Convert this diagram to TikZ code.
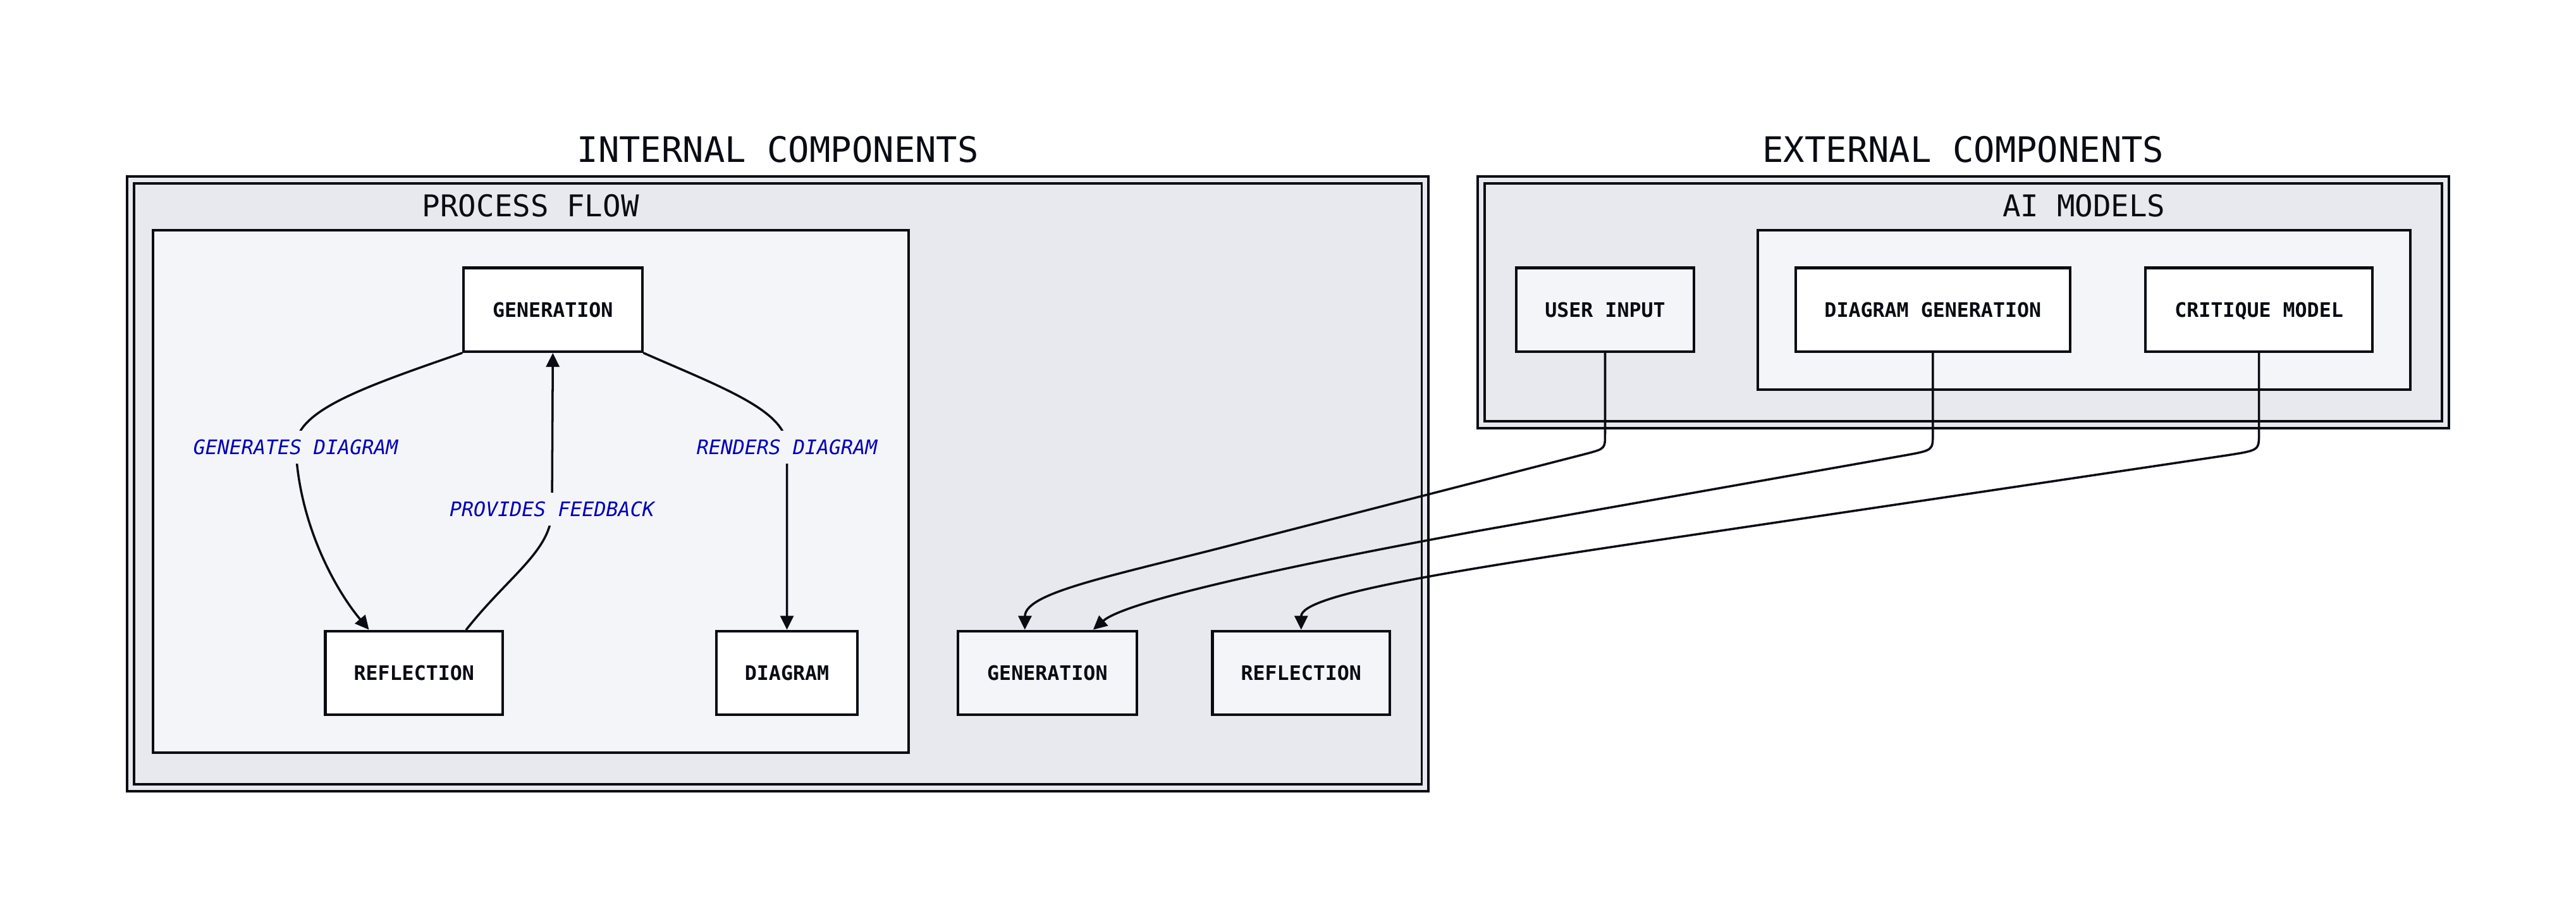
\documentclass[tikz,border=0pt]{standalone}
\usepackage{fontspec}
\setmainfont{DejaVu Sans Mono}
\usepackage{xcolor}
\usetikzlibrary{arrows.meta,calc}
\definecolor{groupgray}{HTML}{E8E9EE}
\definecolor{flowfill}{HTML}{F4F5F9}
\definecolor{inkblack}{HTML}{0A0C14}
\definecolor{labelblue}{HTML}{0000BB}
\newcommand{\pxu}{0.025982cm}

\begin{document}
\begin{tikzpicture}[line cap=round,line join=round,x=\pxu,y=-\pxu,
	>={Triangle[length=2.2mm,width=2.1mm]},
	group/.style={draw=inkblack,line width=1.1pt,line join=miter,fill=groupgray,double=groupgray,double distance=2pt},
	subgroup/.style={draw=inkblack,line width=1.1pt,line join=miter,fill=flowfill},
	grouptitle/.style={inner sep=0pt,text=inkblack,font=\fontsize{15.8}{18}\selectfont},
	subtitle/.style={inner sep=0pt,text=inkblack,font=\fontsize{13.5}{16}\selectfont},
	box/.style={draw=inkblack,line width=1.2pt,line join=miter,fill=white,minimum height=51*\pxu,inner sep=0pt,text depth=0pt,text=inkblack,font=\bfseries\fontsize{9}{11}\selectfont},
	flow/.style={->,draw=inkblack,line width=1pt},
	edgelabel/.style={fill=flowfill,inner xsep=1pt,inner ysep=4pt,text=labelblue,font=\itshape\fontsize{9}{11}\selectfont}]
			\useasboundingbox (0,0) rectangle (1568,559);
			% containers
			\draw [group] (79.5,109.5) rectangle (867.5,479.5);
			\draw [subgroup] (93,140) rectangle (553,458);
			\draw [group] (901.5,109.5) rectangle (1488.5,258.5);
			\draw [subgroup] (1070,140) rectangle (1467,237);
			\node [grouptitle] (inttitle) at (473.5,91) {INTERNAL COMPONENTS};
			\node [subtitle] (flowtitle) at (323,125) {PROCESS FLOW};
			\node [grouptitle] (exttitle) at (1195,91) {EXTERNAL COMPONENTS};
			\node [subtitle] (aititle) at (1268.5,125) {AI MODELS};
			% nodes
			\node [box,minimum width=109*\pxu] (gen) at (336.5,188.5) {GENERATION};
			\node [box,minimum width=108*\pxu] (refl) at (252,409.5) {REFLECTION};
			\node [box,minimum width=86*\pxu] (diag) at (479,409.5) {DIAGRAM};
			\node [box,fill=flowfill,minimum width=109*\pxu] (gen2) at (637.5,409.5) {GENERATION};
			\node [box,fill=flowfill,minimum width=108*\pxu] (refl2) at (792,409.5) {REFLECTION};
			\node [box,fill=flowfill,minimum width=108*\pxu] (user) at (977,188.5) {USER INPUT};
			\node [box,minimum width=167*\pxu] (dgen) at (1176.5,188.5) {DIAGRAM GENERATION};
			\node [box,minimum width=138*\pxu] (crit) at (1375,188.5) {CRITIQUE MODEL};
			% process flow edges
			\draw [flow] (gen.south west) .. controls (220,236) and (180,250) .. (180,272) node[edgelabel] {GENERATES DIAGRAM}
				.. controls (182,320) and (205,360) .. ($(refl.north west)!0.25!(refl.north east)$);
			\draw [flow] ($(refl.north west)!0.79!(refl.north east)$) .. controls (310,350) and (336,335) .. (336,310) node[edgelabel] {PROVIDES FEEDBACK} -- (gen.south);
			\draw [flow] (gen.south east) .. controls (440,236) and (479,250) .. (479,272) node[edgelabel] {RENDERS DIAGRAM} -- (diag.north);
			% external edges
			\draw [flow] (user.south) -- (977,264) .. controls (977,273) .. (966,276) -- (760,329)
				.. controls (680,350) and (624,360) .. ($(gen2.north west)!0.376!(gen2.north east)$);
			\draw [flow] (dgen.south) -- (1176.5,264) .. controls (1176.5,274) .. (1160,277) -- (900,323)
				.. controls (780,345) and (685,366) .. ($(gen2.north west)!0.752!(gen2.north east)$);
			\draw [flow] (crit.south) -- (1375,264) .. controls (1375,274) .. (1356,277) -- (1000,330)
				.. controls (880,348) and (792,362) .. (refl2.north);
\end{tikzpicture}
\end{document}
